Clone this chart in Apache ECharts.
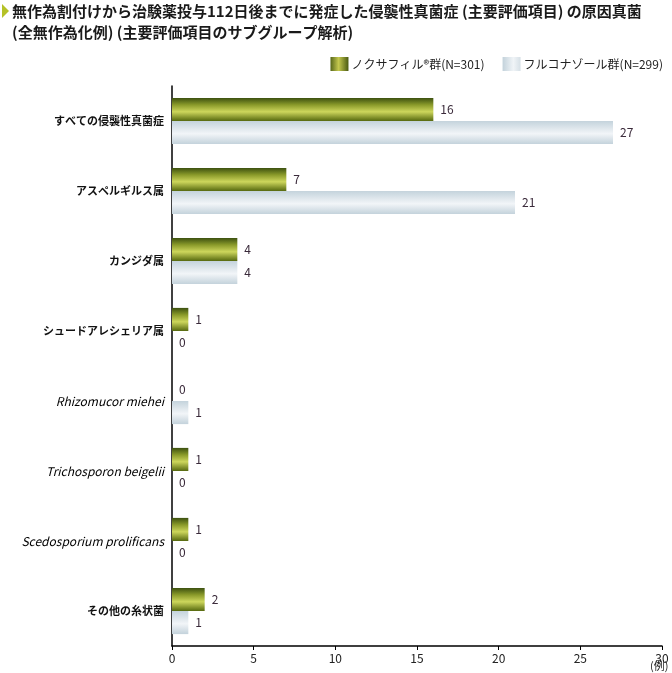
<!DOCTYPE html>
<html>
<head>
<meta charset="utf-8">
<script src="https://cdn.jsdelivr.net/npm/echarts@6/dist/echarts.min.js"></script>
<style>
html, body { margin: 0; padding: 0; background: #fff; }
#chart { width: 672px; height: 673px; }
</style>
</head>
<body>
<div id="chart"></div>
<script>
var categories = ['すべての侵襲性真菌症', 'アスペルギルス属', 'カンジダ属', 'シュードアレシェリア属',
    'Rhizomucor miehei', 'Trichosporon beigelii', 'Scedosporium prolificans', 'その他の糸状菌'];
var italicNames = ['Rhizomucor miehei', 'Trichosporon beigelii', 'Scedosporium prolificans'];
var posaValues = [16, 7, 4, 1, 0, 1, 1, 2];
var flucoValues = [27, 21, 4, 0, 1, 0, 0, 1];
var seriesNames = ['ノクサフィル®群(N=301)', 'フルコナゾール群(N=299)'];
var xTicks = [0, 5, 10, 15, 20, 25, 30];

var FONT = '"Noto Sans CJK JP", "Noto Sans", sans-serif';

// bars shade top->bottom, legend swatches shade left->right
var greenFill = new echarts.graphic.LinearGradient(0, 0, 0, 1, [
    {offset: 0, color: '#3c5010'},
    {offset: 0.3, color: '#8a9a2a'},
    {offset: 0.6, color: '#cdd65c'},
    {offset: 1, color: '#56690f'}
]);
var blueFill = new echarts.graphic.LinearGradient(0, 0, 0, 1, [
    {offset: 0, color: '#c4d3dc'},
    {offset: 0.55, color: '#f2f5f8'},
    {offset: 1, color: '#c3d2db'}
]);
var greenIcon = new echarts.graphic.LinearGradient(0, 0, 1, 0, [
    {offset: 0, color: '#56661a'},
    {offset: 0.45, color: '#c4c84e'},
    {offset: 1, color: '#4a5a12'}
]);
var blueIcon = new echarts.graphic.LinearGradient(0, 0, 1, 0, [
    {offset: 0, color: '#c3d2db'},
    {offset: 0.6, color: '#f0f4f7'},
    {offset: 1, color: '#d6e0e6'}
]);

var chart = echarts.init(document.getElementById('chart'));
chart.setOption({
    backgroundColor: '#fff',
    animation: false,
    textStyle: {fontFamily: FONT},
    graphic: [
        {
            type: 'polygon',
            shape: {points: [[2, 4], [2, 18], [9, 11]]},
            style: {fill: '#b5c228'}
        },
        {
            type: 'text',
            left: 12,
            top: 1,
            style: {
                text: '無作為割付けから治験薬投与112日後までに発症した侵襲性真菌症 (主要評価項目) の原因真菌\n(全無作為化例) (主要評価項目のサブグループ解析)',
                font: 'bold 15px ' + FONT,
                lineHeight: 21,
                fill: '#1a1a1a'
            }
        },
        {
            type: 'text',
            left: 650,
            top: 660,
            style: {text: '(例)', font: '11px ' + FONT, fill: '#222'}
        }
    ],
    legend: {
        top: 57,
        right: 9,
        padding: 0,
        itemWidth: 18,
        itemHeight: 14,
        itemGap: 18,
        textStyle: {fontSize: 12, color: '#222', fontFamily: FONT, padding: [0, 0, 0, -2]},
        data: [
            {name: seriesNames[0], icon: 'rect', itemStyle: {color: greenIcon}},
            {name: seriesNames[1], icon: 'rect', itemStyle: {color: blueIcon}}
        ]
    },
    grid: {left: 172, right: 10, top: 86, bottom: 27, containLabel: false},
    xAxis: {
        type: 'value',
        min: xTicks[0],
        max: xTicks[xTicks.length - 1],
        interval: 5,
        axisLine: {show: true, lineStyle: {color: '#000', width: 1.5}},
        axisTick: {show: true, length: 4, lineStyle: {color: '#000'}},
        axisLabel: {fontSize: 12, color: '#222', margin: 6},
        splitLine: {show: false}
    },
    yAxis: {
        type: 'category',
        inverse: true,
        data: categories,
        axisLine: {lineStyle: {color: '#000', width: 1.5}},
        axisTick: {show: false},
        axisLabel: {
            margin: 8,
            formatter: function (v) {
                return italicNames.indexOf(v) >= 0 ? '{it|' + v + '}' : '{jp|' + v + '}';
            },
            rich: {
                jp: {fontSize: 11, fontWeight: 'bold', color: '#111', fontFamily: FONT},
                it: {fontSize: 12, fontStyle: 'italic', color: '#000', fontFamily: FONT}
            }
        }
    },
    series: [
        {
            name: seriesNames[0],
            type: 'bar',
            data: posaValues,
            barGap: '0%',
            barCategoryGap: '34%',
            itemStyle: {color: greenFill},
            label: {show: true, position: 'right', distance: 7, fontSize: 12, color: '#3a2a3a'}
        },
        {
            name: seriesNames[1],
            type: 'bar',
            data: flucoValues,
            itemStyle: {color: blueFill},
            label: {show: true, position: 'right', distance: 7, fontSize: 12, color: '#3a2a3a'}
        }
    ]
});
</script>
</body>
</html>
